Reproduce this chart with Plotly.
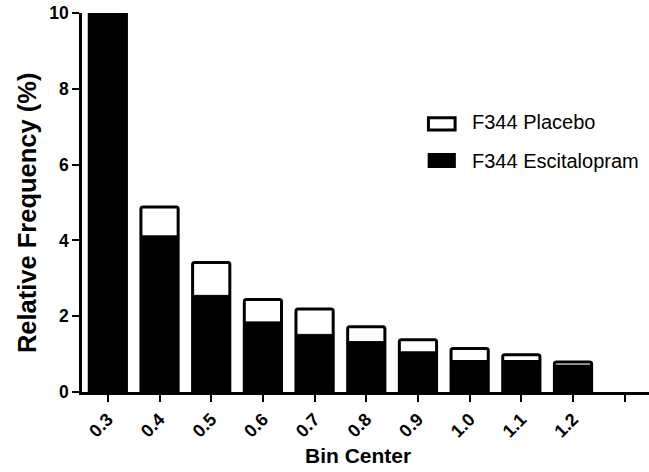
import plotly.graph_objects as go

categories = ["0.3", "0.4", "0.5", "0.6", "0.7", "0.8", "0.9", "1.0", "1.1", "1.2"]
placebo = [11.0, 4.88, 3.42, 2.44, 2.19, 1.72, 1.38, 1.15, 0.98, 0.79]
escitalopram = [10.5, 4.12, 2.55, 1.85, 1.52, 1.33, 1.06, 0.83, 0.83, 0.71]
tick_labels = categories + [""]
series_names = ["F344 Placebo", "F344 Escitalopram"]
x_title = "Bin Center"
y_title = "Relative Frequency (%)"

xpos = list(range(len(categories)))
FONT = "Liberation Sans, Arial, sans-serif"

fig = go.Figure()
fig.add_trace(go.Bar(
    x=xpos, y=placebo, name=series_names[0],
    marker=dict(color="white", line=dict(color="black", width=3), cornerradius=2),
    width=0.72,
))
fig.add_trace(go.Bar(
    x=xpos, y=escitalopram, name=series_names[1],
    marker=dict(color="black", line=dict(color="black", width=1)),
    width=0.72,
))

# legend drawn as swatches + text (paper coords relative to plot area)
fig.add_shape(type="rect", xref="paper", yref="paper",
              x0=0.611, x1=0.658, y0=0.691, y1=0.7235,
              line=dict(color="black", width=3), fillcolor="white")
fig.add_shape(type="rect", xref="paper", yref="paper",
              x0=0.611, x1=0.658, y0=0.593, y1=0.6285,
              line=dict(color="black", width=1.5), fillcolor="black")
fig.add_annotation(x=0.684, y=0.7124, xref="paper", yref="paper", text=series_names[0],
                   showarrow=False, xanchor="left", yanchor="middle",
                   font=dict(size=20, family=FONT, color="black"))
fig.add_annotation(x=0.684, y=0.6095, xref="paper", yref="paper", text=series_names[1],
                   showarrow=False, xanchor="left", yanchor="middle",
                   font=dict(size=20, family=FONT, color="black"))

# axis titles
fig.add_annotation(x=0, y=0.472, xref="paper", yref="paper", xshift=-55,
                   text="<b>%s</b>" % y_title, textangle=-90, showarrow=False,
                   xanchor="center", yanchor="middle",
                   font=dict(size=25.5, family=FONT, color="black"))
fig.add_annotation(x=0.486, y=0, xref="paper", yref="paper", yshift=-63,
                   text="<b>%s</b>" % x_title, showarrow=False,
                   xanchor="center", yanchor="middle",
                   font=dict(size=21, family=FONT, color="black"))

fig.update_layout(
    width=649, height=472,
    margin=dict(l=82, r=0, t=13, b=80),
    barmode="overlay",
    plot_bgcolor="white", paper_bgcolor="white",
    font=dict(family=FONT, color="black"),
    showlegend=False,
    xaxis=dict(
        range=[-0.5, 10.47], tickmode="array",
        tickvals=list(range(len(tick_labels))),
        ticktext=["<b>" + t + "</b>" if t else "" for t in tick_labels],
        tickangle=-45, ticks="outside", ticklen=7, tickwidth=2, tickcolor="black",
        showline=True, linecolor="black", linewidth=2.5, showgrid=False, zeroline=False,
        tickfont=dict(size=18), automargin=False, ticklabeloverflow="allow",
    ),
    yaxis=dict(
        range=[0, 10], tickvals=[0, 2, 4, 6, 8, 10],
        ticktext=["<b>%d</b>" % v for v in [0, 2, 4, 6, 8, 10]],
        tickmode="array",
        ticks="outside", ticklen=7, tickwidth=2, tickcolor="black",
        showline=True, linecolor="black", linewidth=2.5, showgrid=False, zeroline=False,
        tickfont=dict(size=17.5), automargin=False, ticklabeloverflow="allow",
    ),
)

fig.write_html("out.html", config={"displayModeBar": False},
               post_script="document.body.style.margin='0px';")
